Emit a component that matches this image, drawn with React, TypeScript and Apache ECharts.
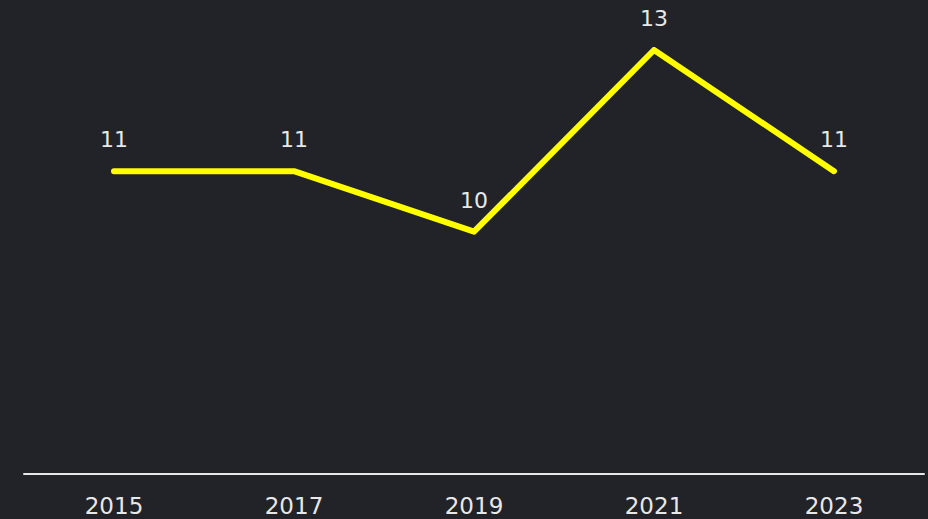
import React, { useEffect, useRef } from "react";
import * as echarts from "echarts";

const categories = ["2015", "2017", "2019", "2021", "2023"];
const values = [11, 11, 10, 13, 11];

export default function App() {
  const ref = useRef<HTMLDivElement>(null);
  useEffect(() => {
    if (!ref.current) return;
    const chart = echarts.init(ref.current, null, { renderer: "svg" });
    chart.setOption({
      animation: false,
      backgroundColor: "#222328",
      textStyle: { fontFamily: "DejaVu Sans" },
      grid: { left: 24, right: 4, top: 50, bottom: 45 },
      xAxis: {
        type: "category",
        data: categories,
        axisLine: { lineStyle: { color: "#e8e8e8", width: 2 } },
        axisTick: { show: false },
        axisLabel: { color: "#e8e8e8", fontSize: 23, margin: 20, fontFamily: "DejaVu Sans" },
      },
      yAxis: {
        type: "value",
        min: 6,
        max: 13,
        show: false,
        splitLine: { show: false },
      },
      series: [
        {
          type: "line",
          data: values,
          showSymbol: true,
          symbol: "circle",
          symbolSize: 1,
          lineStyle: { color: "#ffff00", width: 6, cap: "round", join: "round" },
          itemStyle: { color: "rgba(0,0,0,0)", borderWidth: 0 },
          label: {
            show: true,
            position: "top",
            distance: 20,
            color: "#e8e8e8",
            fontSize: 22,
            fontFamily: "DejaVu Sans",
          },
        },
      ],
    });
    return () => chart.dispose();
  }, []);
  return <div ref={ref} style={{ width: 928, height: 519, position: "fixed", left: 0, top: 0 }} />;
}
